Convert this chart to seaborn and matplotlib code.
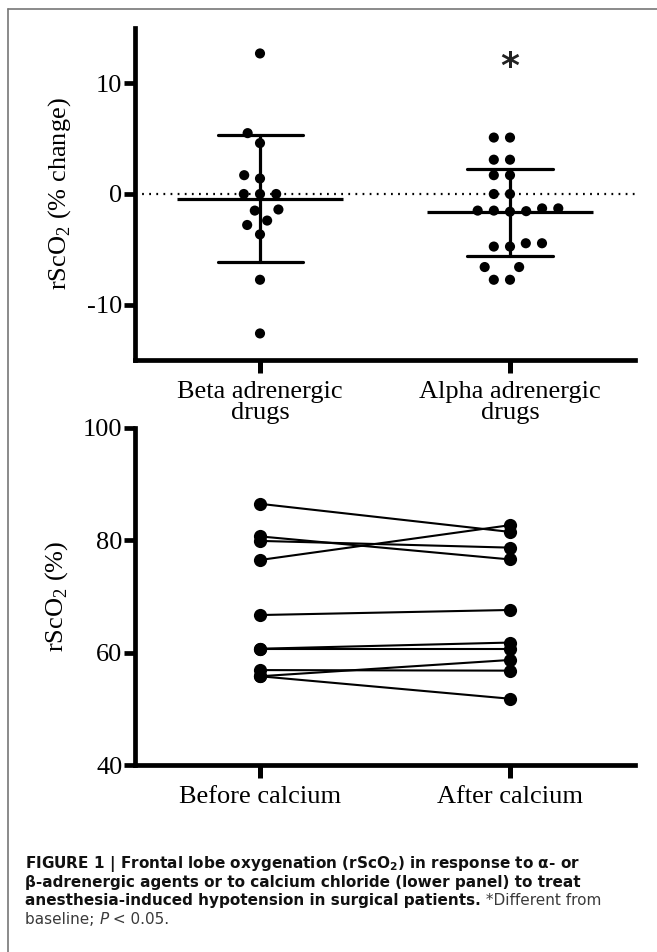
import numpy as np
import pandas as pd
import matplotlib
matplotlib.use("Agg")
import matplotlib.pyplot as plt
from matplotlib.lines import Line2D
import seaborn as sns

# ====================================================================
#   DATA
# ====================================================================

# upper panel: rScO2 % change after vasoactive drugs
top_groups = ["Beta adrenergic\ndrugs", "Alpha adrenergic\ndrugs"]
beta_vals = [12.7, 5.5, 4.6, 1.7, 1.4, 0.0, 0.0, 0.0,
             -1.4, -1.5, -2.4, -2.8, -3.65, -7.75, -12.6]
alpha_vals = [5.1, 5.1, 3.1, 3.1, 1.7, 1.7, 0.0, 0.0,
              -1.3, -1.5, -1.6, -1.55, -1.5, -1.3,
              -4.45, -4.45, -4.75, -4.75, -6.6, -6.6, -7.75, -7.75]
top_ticks = [-10, 0, 10]

# lower panel: paired rScO2 (%) before / after calcium chloride
time_labels = ["Before calcium", "After calcium"]
before_ca = [86.5, 80.7, 79.9, 76.5, 66.7, 60.7, 60.7, 56.9, 55.8, 55.8]
after_ca = [81.5, 76.6, 78.7, 82.7, 67.6, 61.8, 60.7, 56.8, 58.7, 51.8]
bottom_ticks = [40, 60, 80, 100]

df_top = pd.DataFrame({
    "group": [top_groups[0]] * len(beta_vals) + [top_groups[1]] * len(alpha_vals),
    "value": beta_vals + alpha_vals,
})

n = len(before_ca)
df_bot = pd.DataFrame({
    "subject": list(range(n)) * 2,
    "time": [time_labels[0]] * n + [time_labels[1]] * n,
    "value": before_ca + after_ca,
})

# ====================================================================
#   STYLE
# ====================================================================
sns.set_style("ticks")
plt.rcParams["font.family"] = ["Liberation Serif", "DejaVu Serif"]
plt.rcParams["axes.unicode_minus"] = False
plt.rcParams["mathtext.fontset"] = "custom"
plt.rcParams["mathtext.rm"] = "Liberation Serif"
plt.rcParams["mathtext.bf"] = "DejaVu Sans:bold"
for key in ["text.color", "axes.labelcolor", "xtick.color", "ytick.color"]:
    plt.rcParams[key] = "black"

fig = plt.figure(figsize=(6.57, 9.52), dpi=100)
W, H = 657, 952
FS = 19


def px_axes(left, top, right, bottom):
    return fig.add_axes([left / W, 1 - bottom / H, (right - left) / W, (bottom - top) / H])


def style_axes(ax):
    sns.despine(ax=ax)
    for side in ["left", "bottom"]:
        ax.spines[side].set_linewidth(3.4)
        ax.spines[side].set_color("black")
    ax.tick_params(axis="y", length=8, width=3.4, labelsize=FS, pad=1,
                   color="black", labelcolor="black")
    ax.tick_params(axis="x", length=9, width=3.6, labelsize=FS, pad=6,
                   color="black", labelcolor="black")
    ax.set_xlabel("")


# ====================================================================
#   UPPER PANEL
# ====================================================================
ax1 = px_axes(135, 28, 635, 360)

ax1.axhline(0, color="black", lw=1.6, ls=(0, (0.8, 2.4)), zorder=1)

sns.pointplot(data=df_top, x="group", y="value", order=top_groups,
              errorbar="sd", capsize=0.34, color="black", linestyle="none",
              marker="_", markersize=120, markeredgewidth=2.3,
              err_kws={"linewidth": 2.3}, ax=ax1)

sns.swarmplot(data=df_top, x="group", y="value", order=top_groups,
              color="black", size=7.3, linewidth=3.8, edgecolor="none",
              ax=ax1, zorder=5)

ax1.set_xlim(-0.5, 1.5)
ax1.set_ylim(-15, 15)
ax1.set_yticks(top_ticks)
ax1.set_xticks(range(len(top_groups)))
ax1.set_xticklabels(top_groups, linespacing=0.95)
ax1.set_ylabel("rScO$_2$ (% change)", fontsize=FS, labelpad=10, color="black")
ax1.text(1, 11.5, "*", ha="center", va="center", fontsize=26,
         family="DejaVu Sans", fontweight="bold", color="#222222")
style_axes(ax1)

# ====================================================================
#   LOWER PANEL
# ====================================================================
ax2 = px_axes(135, 428, 635, 765)

sns.lineplot(data=df_bot, x="time", y="value", units="subject", estimator=None,
             color="black", marker="o", markersize=9.5, markeredgewidth=0,
             linewidth=1.5, ax=ax2)

ax2.set_xlim(-0.5, 1.5)
ax2.set_ylim(40, 100)
ax2.set_yticks(bottom_ticks)
ax2.set_xticks(range(len(time_labels)))
ax2.set_xticklabels(time_labels)
ax2.set_ylabel("rScO$_2$ (%)", fontsize=FS, labelpad=9, color="black")
style_axes(ax2)

# ====================================================================
#   FRAME + CAPTION
# ====================================================================
fig.add_artist(Line2D([8 / W, 8 / W], [0, 1 - 9 / H], color="#777777", lw=1.2))
fig.add_artist(Line2D([8 / W, 1], [1 - 9 / H, 1 - 9 / H], color="#777777", lw=1.2))

bg = fig.add_axes([0, 0, 1, 1], zorder=-1)
bg.axis("off")

cap_font = dict(family=["DejaVu Sans"], fontsize=11.0)
reg_col = "#3a3a3a"
x0 = 25 / W
bg.text(x0, 1 - 868 / H,
        r"FIGURE 1 | Frontal lobe oxygenation (rScO$_\mathbf{2}$) in response to α- or",
        fontweight="bold", va="baseline", color="#111111", **cap_font)
bg.text(x0, 1 - 886.5 / H,
        "β-adrenergic agents or to calcium chloride (lower panel) to treat",
        fontweight="bold", va="baseline", color="#111111", **cap_font)
t3 = bg.text(x0, 1 - 905 / H,
             "anesthesia-induced hypotension in surgical patients.",
             fontweight="bold", va="baseline", color="#111111", **cap_font)
bg.annotate(" *Different from", xy=(1, 0), xycoords=t3, va="bottom",
            color=reg_col, **cap_font)
t4 = bg.text(x0, 1 - 923.5 / H, "baseline; ", va="baseline",
             color=reg_col, **cap_font)
t5 = bg.annotate("P", xy=(1, 0), xycoords=t4, va="bottom", style="italic",
                 color=reg_col, **cap_font)
bg.annotate(" < 0.05.", xy=(1, 0), xycoords=t5, va="bottom",
            color=reg_col, **cap_font)

fig.savefig("out.png", dpi=100)
